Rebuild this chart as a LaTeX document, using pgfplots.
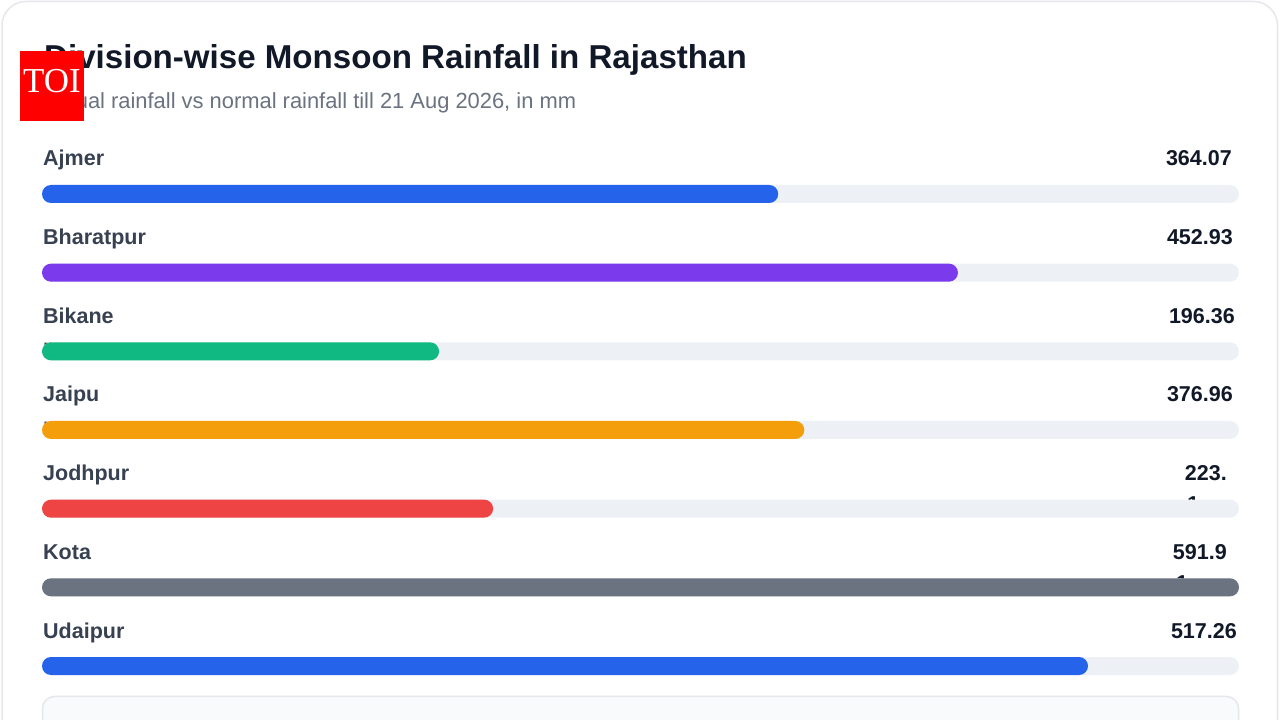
\documentclass[border=0pt]{standalone}
\usepackage{fontspec}
\setmainfont{Liberation Sans}
\newfontfamily\toifont{Liberation Serif}
\usepackage{pgfplots}
\pgfplotsset{compat=1.18}
\definecolor{cblue}{HTML}{2563EB}
\definecolor{cpurple}{HTML}{7C3AED}
\definecolor{cgreen}{HTML}{10B981}
\definecolor{corange}{HTML}{F59E0B}
\definecolor{cred}{HTML}{EF4444}
\definecolor{cgray}{HTML}{6B7280}
\definecolor{track}{HTML}{EDF1F6}
\definecolor{titlec}{HTML}{111827}
\definecolor{subc}{HTML}{6B7280}
\definecolor{labelc}{HTML}{374151}
\definecolor{cardline}{HTML}{E5E7EB}
\definecolor{boxfill}{HTML}{F8FAFC}
\definecolor{toired}{HTML}{FF0000}
\tikzset{
  lab/.style={anchor=base west, inner sep=0pt, text=labelc, font=\bfseries\fontsize{21.5}{25}\selectfont, yshift=28pt, xshift=1pt},
  val/.style={anchor=base east, inner sep=0pt, text=titlec, font=\bfseries\fontsize{21.5}{25}\selectfont, yshift=28pt},
}
\begin{document}
\begin{tikzpicture}[x=1pt,y=1pt]
\useasboundingbox (0,0) rectangle (1280,720);
\begin{scope}
\clip (0,0) rectangle (1280,720);
\fill[white] (0,0) rectangle (1280,720);
\draw[cardline, line width=1.5pt, rounded corners=24pt, fill=white] (2,-40) rectangle (1277.5,718.5);
\draw[cardline, fill=boxfill, line width=1.5pt, rounded corners=12pt] (42.5,-30) rectangle (1238.5,23.5);
\end{scope}
% wrapped text fragments hidden behind the bars
\begin{scope}[every node/.style={inner sep=0pt, text=labelc, font=\bfseries\fontsize{21.5}{25}\selectfont}]
\node[anchor=base west] at (43,365) {r};
\node[anchor=base west] at (43,286.3) {r};
\node[anchor=base west, text=titlec] at (1187,208) {1};
\node[anchor=base west, text=titlec] at (1176,129.5) {1};
\end{scope}
\begin{axis}[
  at={(42pt,14.67pt)}, anchor=south west,
  width=1197pt, height=550.67pt, scale only axis,
  xmin=0, xmax=591.91, ymin=-0.5, ymax=6.5, y dir=reverse,
  hide axis, clip=false,
  xbar, bar width=18pt, bar shift=0pt,
  every axis plot/.append style={draw=none, rounded corners=9pt},
]
\addplot[fill=track] coordinates {(591.91,0) (591.91,1) (591.91,2) (591.91,3) (591.91,4) (591.91,5) (591.91,6)};
\addplot[fill=cblue] coordinates {(364.07,0)};
\addplot[fill=cpurple] coordinates {(452.93,1)};
\addplot[fill=cgreen] coordinates {(196.36,2)};
\addplot[fill=corange] coordinates {(376.96,3)};
\addplot[fill=cred] coordinates {(223.1,4)};
\addplot[fill=cgray] coordinates {(591.91,5)};
\addplot[fill=cblue] coordinates {(517.26,6)};
\node[lab] at (axis cs:0,0) {Ajmer};
\node[lab] at (axis cs:0,1) {Bharatpur};
\node[lab] at (axis cs:0,2) {Bikane};
\node[lab] at (axis cs:0,3) {Jaipu};
\node[lab] at (axis cs:0,4) {Jodhpur};
\node[lab] at (axis cs:0,5) {Kota};
\node[lab] at (axis cs:0,6) {Udaipur};
\node[val, xshift=-7pt] at (axis cs:591.91,0) {364.07};
\node[val, xshift=-6pt] at (axis cs:591.91,1) {452.93};
\node[val, xshift=-4pt] at (axis cs:591.91,2) {196.36};
\node[val, xshift=-6pt] at (axis cs:591.91,3) {376.96};
\node[val, xshift=-12pt] at (axis cs:591.91,4) {223.};
\node[val, xshift=-12pt] at (axis cs:591.91,5) {591.9};
\node[val, xshift=-2pt] at (axis cs:591.91,6) {517.26};
\end{axis}
\node[anchor=base west, inner sep=0pt, text=titlec, font=\bfseries\fontsize{33.1}{38}\selectfont] at (44,651) {Division-wise Monsoon Rainfall in Rajasthan};
\node[anchor=base west, inner sep=0pt, text=subc, font=\fontsize{21.9}{25}\selectfont] at (44,611.5) {Actual rainfall vs normal rainfall till 21 Aug 2026, in mm};
\fill[toired] (20,599) rectangle (84,669);
\node[anchor=base, inner sep=0pt, text=white, font=\toifont\fontsize{35}{40}\selectfont] at (52,627) {TOI};
\end{tikzpicture}
\end{document}
